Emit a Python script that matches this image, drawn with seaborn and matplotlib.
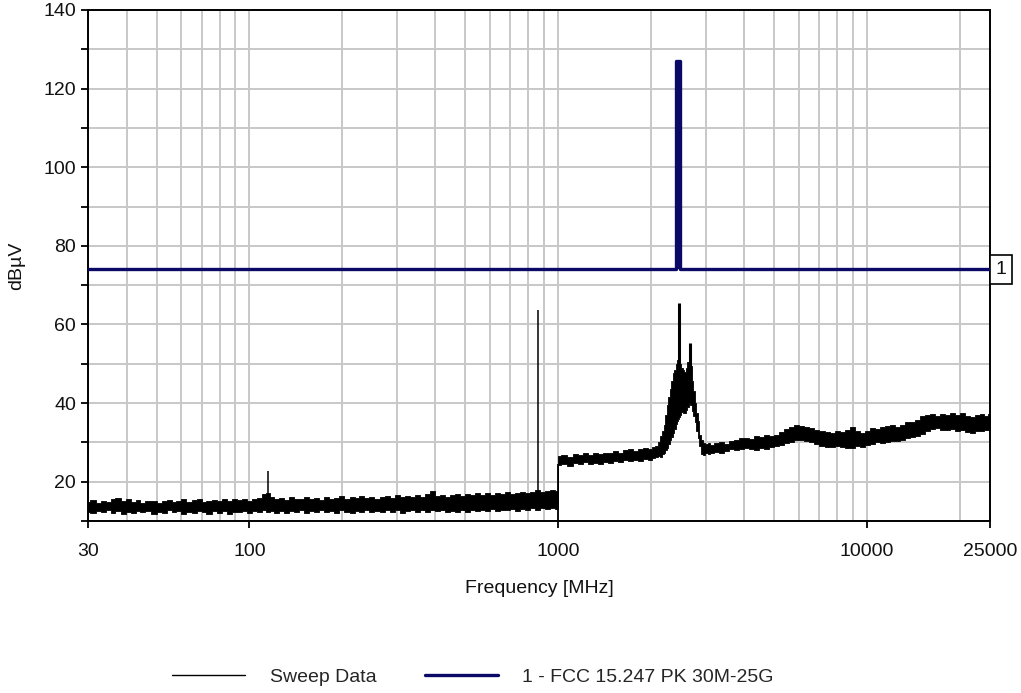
import matplotlib
matplotlib.use("Agg")
import matplotlib.pyplot as plt
import numpy as np
import pandas as pd
import seaborn as sns
from matplotlib.lines import Line2D
from matplotlib.ticker import LogLocator, NullFormatter

sns.set_theme(style="white")
plt.rcParams["font.family"] = ["Liberation Sans", "DejaVu Sans"]

# Sweep trace, 30 MHz - 1 GHz: lower / upper envelope of the noise band (dBuV)
low_freq = [30, 31, 32.5, 33.5, 35, 36, 37.5, 39, 40.5, 42,
            43.5, 45, 47, 49, 51, 53, 55, 57, 59, 61,
            64, 66, 69, 71, 74, 77, 80, 83, 86, 89,
            93, 96, 100, 104, 108, 112, 115, 118, 122, 127,
            132, 137, 142, 147, 153, 159, 165, 171, 178, 185,
            192, 199, 207, 215, 223, 231, 240, 249, 259, 269,
            279, 290, 301, 312, 324, 337, 350, 363, 377, 391,
            406, 422, 438, 454, 472, 490, 508, 528, 548, 569,
            591, 613, 637, 661, 686, 712, 739, 767, 797, 827,
            858, 890, 924, 960, 998]
low_lo = [12.4, 12.0, 12.6, 12.2, 12.7, 12.1, 12.5, 11.8, 12.4, 12.0,
          12.6, 12.2, 12.5, 11.9, 12.4, 12.1, 12.7, 12.2, 12.5, 11.9,
          12.4, 12.0, 12.6, 12.3, 11.8, 12.5, 12.1, 12.6, 11.9, 12.4,
          12.2, 12.6, 12.0, 12.5, 12.2, 12.7, 12.3, 12.6, 12.1, 12.5,
          12.0, 12.6, 12.3, 12.7, 12.1, 12.5, 12.2, 12.8, 12.3, 12.6,
          12.1, 12.7, 12.4, 12.0, 12.6, 12.3, 12.8, 12.2, 12.6, 12.4,
          12.8, 12.3, 12.7, 12.1, 12.6, 12.9, 12.4, 12.8, 12.3, 12.7,
          12.5, 12.9, 12.2, 12.6, 12.4, 12.8, 12.3, 12.7, 12.5, 12.9,
          12.6, 13.0, 12.5, 12.9, 12.7, 13.1, 12.6, 13.0, 12.8, 13.2,
          12.9, 13.3, 13.0, 13.4, 13.1]
low_hi = [14.9, 15.4, 14.6, 15.2, 14.8, 15.5, 15.9, 15.1, 15.6, 14.9,
          15.3, 14.7, 15.2, 15.0, 14.6, 15.1, 15.4, 14.8, 15.2, 15.6,
          14.9, 15.3, 15.5, 14.8, 15.1, 15.4, 15.0, 15.6, 15.2, 15.7,
          15.3, 15.6, 15.1, 15.5, 15.8, 16.9, 17.2, 16.0, 15.6, 15.9,
          15.4, 16.2, 15.7, 15.5, 16.0, 15.6, 15.9, 15.4, 16.1, 15.7,
          15.9, 16.3, 15.6, 16.0, 15.8, 16.4, 15.9, 16.2, 15.7, 16.1,
          16.3, 15.9, 16.5, 16.1, 16.4, 16.0, 16.6, 16.2, 16.8, 17.6,
          16.4, 16.7, 16.2, 16.6, 16.9, 16.3, 16.8, 16.5, 17.0, 16.6,
          17.1, 16.7, 17.0, 16.8, 17.3, 16.9, 17.2, 17.5, 17.1, 17.4,
          17.8, 17.3, 17.7, 18.0, 17.6]

# Sweep trace, 1 GHz - 25 GHz
high_freq = [1000, 1040, 1094, 1135, 1179, 1225, 1270, 1320, 1369, 1420,
             1475, 1530, 1589, 1650, 1713, 1780, 1846, 1915, 1989, 2040,
             2080, 2120, 2159, 2190, 2208, 2235, 2259, 2285, 2309, 2335,
             2362, 2390, 2415, 2435, 2451, 2470, 2489, 2515, 2545, 2575,
             2603, 2630, 2662, 2690, 2722, 2750, 2784, 2815, 2848, 2880,
             2912, 2965, 3023, 3080, 3138, 3260, 3381, 3510, 3645, 3785,
             3928, 4080, 4232, 4395, 4561, 4735, 4915, 5100, 5297, 5500,
             5707, 5925, 6150, 6385, 6628, 6880, 7142, 7415, 7696, 7990,
             8293, 8610, 8936, 9280, 9629, 10000, 10376, 10770, 11181, 11610,
             12049, 12510, 12984, 13480, 13991, 14520, 15077, 15650, 16247, 16870,
             17508, 18180, 18866, 19590, 20330, 21110, 21907, 22750, 23607, 24300,
             25000]
high_lo = [24.3, 24.6, 24.1, 24.7, 24.4, 24.9, 24.5, 24.8, 24.6, 25.1,
           24.8, 25.2, 24.9, 25.4, 25.2, 25.6, 25.3, 25.7, 25.6, 26.0,
           26.2, 26.6, 26.4, 27.0, 27.4, 28.0, 28.6, 29.5, 30.5, 31.4,
           32.4, 33.5, 34.6, 35.5, 36.0, 36.4, 37.0, 37.8, 37.4, 37.6,
           38.2, 39.0, 40.0, 39.4, 38.0, 36.8, 35.2, 33.0, 31.0, 29.0,
           27.0, 26.8, 27.2, 27.0, 27.3, 27.5, 27.3, 27.8, 28.2, 28.0,
           28.2, 28.6, 28.3, 28.1, 28.5, 28.3, 28.7, 29.0, 29.4, 29.8,
           30.2, 30.6, 30.7, 30.4, 30.1, 29.6, 29.2, 28.9, 28.8, 29.2,
           28.9, 28.6, 28.5, 29.0, 28.8, 29.3, 29.5, 30.0, 29.8, 30.2,
           30.4, 30.3, 30.6, 31.0, 31.3, 31.6, 32.2, 32.8, 33.4, 33.6,
           33.2, 33.1, 33.3, 33.0, 33.1, 32.7, 32.4, 32.8, 33.0, 33.2,
           33.1]
high_hi = [26.6, 26.9, 26.4, 27.0, 26.7, 27.2, 26.8, 27.3, 27.1, 27.4,
           27.2, 27.7, 27.4, 28.0, 28.3, 27.9, 28.2, 28.6, 28.3, 28.8,
           29.0, 30.0, 31.5, 33.0, 34.5, 37.0, 39.5, 41.5, 43.5, 45.5,
           47.6, 48.5, 50.0, 51.0, 51.5, 51.0, 50.0, 49.0, 48.4, 48.0,
           49.0, 50.5, 51.0, 49.5, 45.5, 43.0, 40.0, 37.5, 35.5, 32.0,
           30.5, 29.8, 29.5, 29.9, 29.4, 29.8, 30.0, 29.7, 30.3, 30.6,
           31.0, 31.2, 30.8, 31.5, 31.3, 31.9, 31.6, 32.0, 32.6, 33.3,
           33.8, 34.4, 34.2, 33.9, 33.6, 33.2, 33.0, 32.6, 32.4, 33.0,
           32.6, 33.2, 33.9, 32.8, 32.4, 33.0, 33.6, 33.3, 33.8, 34.2,
           34.4, 34.0, 34.5, 35.1, 35.3, 35.8, 36.6, 37.0, 37.2, 36.8,
           37.1, 36.9, 37.4, 37.0, 37.5, 36.8, 36.5, 36.9, 37.1, 36.7,
           37.2]

# narrow spurs and carrier peaks rising out of the noise band
spur_freq = [115, 858]
spur_base = [13.0, 14.0]
spur_top = [22.8, 63.6]
carrier_freq = [2460, 2662]
carrier_base = [40.0, 42.0]
carrier_top = [65.5, 55.3]
band_step_freq = 1000
band_step_top = 24.5

# limit line 1 - FCC 15.247 PK 30M-25G
limit_freq = [30, 2400, 2400, 2483.5, 2483.5, 25000]
limit_db = [74, 74, 127, 127, 74, 74]
limit_level = 74

x_ticks = [30, 100, 1000, 10000, 25000]
x_tick_labels = ["30", "100", "1000", "10000", "25000"]
y_ticks = list(range(10, 141, 10))
y_tick_labels = ["" if v % 20 else str(v) for v in y_ticks]

NAVY = "#0a0a66"
FS = 14

sweep = pd.DataFrame({
    "freq": low_freq + high_freq,
    "lo": low_lo + high_lo,
    "hi": low_hi + high_hi,
})
limit = pd.DataFrame({"freq": limit_freq, "db": limit_db})

fig = plt.figure(figsize=(10.21, 6.93), dpi=100)
ax = fig.add_axes([88 / 1021, 1 - 521 / 693, 902 / 1021, 511 / 693])

ax.set_xscale("log")
ax.set_xlim(30, 25000)
ax.set_ylim(10, 140)

# grid
ax.xaxis.set_minor_locator(LogLocator(base=10, subs=np.arange(2, 10)))
ax.xaxis.set_minor_formatter(NullFormatter())
ax.grid(which="both", axis="x", color="#c8c8c8", lw=1.4)
ax.grid(which="major", axis="y", color="#c8c8c8", lw=1.4)
ax.set_axisbelow(True)

# sweep data
ax.fill_between(sweep["freq"], sweep["lo"], sweep["hi"], step="mid",
                color="black", lw=0.6, edgecolor="black", zorder=3)
ax.vlines(spur_freq, spur_base, spur_top, color="black", lw=1.1, zorder=3)
ax.vlines(carrier_freq, carrier_base, carrier_top, color="black", lw=2.2, zorder=3)
ax.vlines([band_step_freq], 10, band_step_top, color="black", lw=1.3, zorder=3)

# limit line (the raised band is drawn solid)
ax.fill_between(limit["freq"], limit_level, limit["db"], color=NAVY, lw=0, zorder=4)
sns.lineplot(data=limit, x="freq", y="db", color=NAVY, lw=2.4, ax=ax,
             sort=False, estimator=None, zorder=4,
             solid_capstyle="round", solid_joinstyle="round")

ax.set_xticks(x_ticks)
ax.set_xticklabels(x_tick_labels)
ax.set_yticks(y_ticks)
ax.set_yticklabels(y_tick_labels)
ax.tick_params(axis="both", which="major", direction="out", length=5, width=1.3,
               color="black", labelsize=FS, labelcolor="#111111",
               bottom=True, left=True)
ax.tick_params(axis="x", which="major", pad=11)
ax.tick_params(axis="y", which="major", pad=3.5)
ax.tick_params(axis="x", which="minor", length=0)

for s in ax.spines.values():
    s.set_color("black")
    s.set_linewidth(1.4)

ax.set_xlabel("Frequency [MHz]", fontsize=FS, labelpad=14, color="#111111")
ax.set_ylabel("dBµV", fontsize=FS, labelpad=13, color="#111111")

# limit line tag at the right edge
ax.text(1.0122, limit_level, "1", transform=ax.get_yaxis_transform(), fontsize=FS,
        ha="center", va="center", color="#111111",
        bbox=dict(boxstyle="square,pad=0.3", fc="white", ec="black", lw=1.2))

handles = [Line2D([], [], color="black", lw=1.0),
           Line2D([], [], color=NAVY, lw=2.4)]
fig.legend(handles, ["Sweep Data", "1 - FCC 15.247 PK 30M-25G"],
           loc="center", bbox_to_anchor=(473 / 1021, 1 - 677 / 693), ncol=2,
           frameon=False, fontsize=FS, handlelength=3.75, handletextpad=1.25,
           columnspacing=2.5)

fig.savefig("out.png", dpi=100)
